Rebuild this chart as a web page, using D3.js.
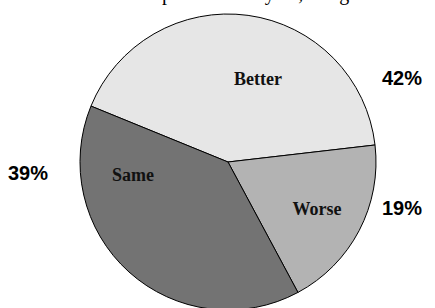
<!DOCTYPE html>
<html>
<head>
<meta charset="utf-8">
<script src="https://cdn.jsdelivr.net/npm/d3@7/dist/d3.min.js"></script>
<style>
  html, body { margin: 0; padding: 0; background: #fff; }
  svg { display: block; }
</style>
</head>
<body>
<div id="chart"></div>
<script>
// ---- data ----
const categories = ["Better", "Worse", "Same"];
const values = [42, 19, 39];
const percentLabels = ["42%", "19%", "39%"];
const sliceColors = ["#e6e6e6", "#b3b3b3", "#737373"];
const title = "Compared to last year, things";

// ---- layout ----
const W = 435, H = 308;
const cx = 228, cy = 162, R = 148;
const startDeg = -67.8;
// label offsets relative to pie centre (layout only)
const innerPos = { Better: [30, -83], Worse: [89, 47], Same: [-95, 13] };
const outerPos = { Better: [174, -84], Worse: [174, 46], Same: [-200, 11] };

const svg = d3.select("#chart").append("svg")
  .attr("width", W).attr("height", H);

svg.append("text")
  .attr("x", 123).attr("y", 0)
  .attr("font-family", "Liberation Serif, serif")
  .attr("font-size", 20)
  .attr("fill", "#000")
  .text(title);

const color = d3.scaleOrdinal().domain(categories).range(sliceColors);

const pie = d3.pie().sort(null)
  .startAngle(startDeg * Math.PI / 180)
  .endAngle(startDeg * Math.PI / 180 + 2 * Math.PI)
  .value(d => d.v);

const data = categories.map((c, i) => ({ c, v: values[i], p: percentLabels[i] }));
const arcs = pie(data);
const arc = d3.arc().innerRadius(0).outerRadius(R);

const g = svg.append("g").attr("transform", `translate(${cx},${cy})`);

g.selectAll("path.slice").data(arcs).join("path")
  .attr("class", "slice")
  .attr("d", arc)
  .attr("fill", d => color(d.data.c))
  .attr("stroke", "#000")
  .attr("stroke-width", 1);

g.selectAll("text.cat").data(arcs).join("text")
  .attr("class", "cat")
  .attr("x", d => innerPos[d.data.c][0])
  .attr("y", d => innerPos[d.data.c][1])
  .attr("text-anchor", "middle")
  .attr("dy", "0.35em")
  .attr("font-family", "Liberation Serif, serif")
  .attr("font-weight", "bold")
  .attr("font-size", 18)
  .attr("fill", "#111")
  .text(d => d.data.c);

g.selectAll("text.pct").data(arcs).join("text")
  .attr("class", "pct")
  .attr("x", d => outerPos[d.data.c][0])
  .attr("y", d => outerPos[d.data.c][1])
  .attr("text-anchor", "middle")
  .attr("dy", "0.35em")
  .attr("font-family", "Liberation Sans, Arial, sans-serif")
  .attr("font-weight", "bold")
  .attr("font-size", 20)
  .attr("fill", "#000")
  .text(d => d.data.p);
</script>
</body>
</html>
